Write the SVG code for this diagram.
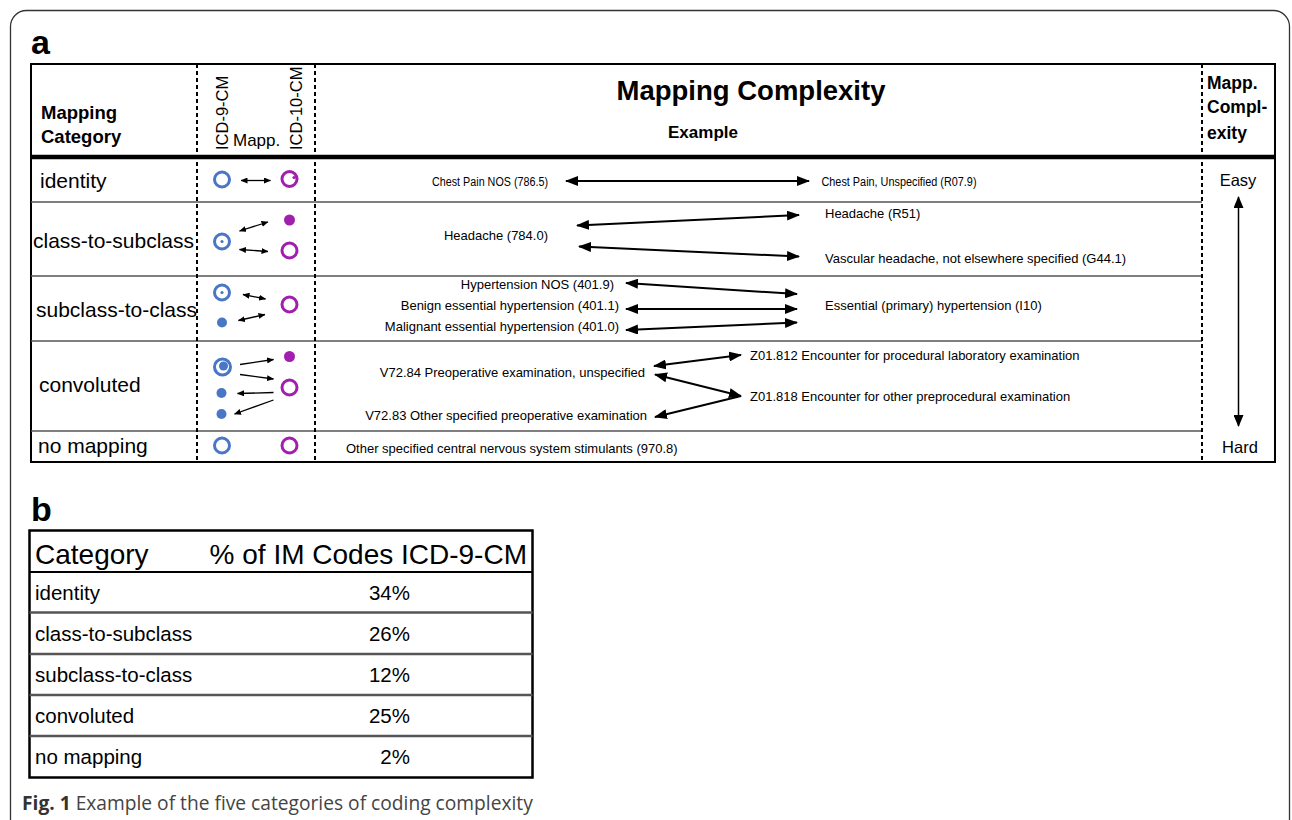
<svg xmlns="http://www.w3.org/2000/svg" width="1292" height="820" viewBox="0 0 1292 820">
<style>
.sans{font-family:"Liberation Sans",Arial,sans-serif;fill:#000}
.cat{font-size:21px}
.ex{font-size:13px}
.hdr{font-family:"Liberation Sans",Arial,sans-serif;font-weight:bold;fill:#000}
.sep{stroke:#555;stroke-width:1.5}
.dash{stroke:#000;stroke-width:2;stroke-dasharray:4 3}
.bring{fill:#fff;stroke:#4a76c6;stroke-width:3}
.mring{fill:#fff;stroke:#a11fae;stroke-width:3}
.bdot{fill:#4a76c6}
.mdot{fill:#a11fae}
.sarr{stroke:#000;stroke-width:1.3;fill:none}
.barr{stroke:#000;stroke-width:2;fill:none}
.tb{font-family:"Liberation Sans",Arial,sans-serif;fill:#000;font-size:20.5px}
.th{font-family:"Liberation Sans",Arial,sans-serif;fill:#000;font-size:28px}
.tsep{stroke:#555;stroke-width:2.5}
</style>
<defs>
<marker id="sa" markerUnits="userSpaceOnUse" markerWidth="7" markerHeight="6" refX="6.5" refY="3" orient="auto-start-reverse"><path d="M0,0 L7,3 L0,6 z" fill="#000"/></marker>
<marker id="ba" markerUnits="userSpaceOnUse" markerWidth="13" markerHeight="10" refX="12" refY="5" orient="auto-start-reverse"><path d="M0,0 L13,5 L0,10 z" fill="#000"/></marker>
<marker id="va" markerUnits="userSpaceOnUse" markerWidth="12" markerHeight="10" refX="11" refY="5" orient="auto-start-reverse"><path d="M0,0 L12,5 L0,10 z" fill="#000"/></marker>
</defs>
<rect width="1292" height="820" fill="#fff"/>
<rect x="10.5" y="10.5" width="1279" height="840" rx="16" fill="none" stroke="#333" stroke-width="1.3"/>

<g id="panel-a">
<text x="31" y="54" class="hdr" font-size="34">a</text>
<rect x="31" y="64" width="1244" height="398" fill="none" stroke="#000" stroke-width="2"/>
<line x1="31" y1="157" x2="1275" y2="157" stroke="#000" stroke-width="4.5"/>
<g id="row-lines">
<line x1="31" y1="202" x2="1202" y2="202" class="sep"/>
<line x1="31" y1="276" x2="1202" y2="276" class="sep"/>
<line x1="31" y1="341" x2="1202" y2="341" class="sep"/>
<line x1="31" y1="431" x2="1202" y2="431" class="sep"/>
</g>
<line x1="197" y1="64" x2="197" y2="462" class="dash"/>
<line x1="315" y1="64" x2="315" y2="462" class="dash"/>
<line x1="1202" y1="64" x2="1202" y2="462" class="dash"/>
</g>

<g id="header">
<text x="41" y="119" class="hdr" font-size="18.5">Mapping</text>
<text x="41" y="143" class="hdr" font-size="18.5">Category</text>
<text transform="translate(228,150) rotate(-90)" class="sans" font-size="16.5">ICD-9-CM</text>
<text transform="translate(302,150) rotate(-90)" class="sans" font-size="16.5">ICD-10-CM</text>
<text x="233" y="146" class="sans" font-size="17">Mapp.</text>
<text x="751" y="100" class="hdr" font-size="27.5" text-anchor="middle">Mapping Complexity</text>
<text x="703" y="138" class="hdr" font-size="17" text-anchor="middle">Example</text>
<text x="1207" y="89" class="hdr" font-size="17.5">Mapp.</text>
<text x="1207" y="113" class="hdr" font-size="17.5">Compl-</text>
<text x="1207" y="139" class="hdr" font-size="17.5">exity</text>
</g>

<g id="row-identity">
<text x="40" y="188" class="sans cat">identity</text>
<circle cx="222" cy="179.5" r="7.5" class="bring"/>
<circle cx="289.5" cy="179" r="7.5" class="mring"/>
<circle cx="294" cy="177.5" r="1.6" class="mdot"/>
<text x="548" y="185.5" class="sans" font-size="12.5" text-anchor="end" textLength="116" lengthAdjust="spacingAndGlyphs">Chest Pain NOS (786.5)</text>
<text x="821.5" y="185.5" class="sans" font-size="12.5" textLength="155" lengthAdjust="spacingAndGlyphs">Chest Pain, Unspecified (R07.9)</text>
</g>

<g id="row-class-to-subclass">
<text x="33" y="248" class="sans cat">class-to-subclass</text>
<circle cx="222" cy="241.5" r="7.5" class="bring"/>
<circle cx="222" cy="241.5" r="1.6" class="bdot"/>
<circle cx="289.5" cy="220" r="5.5" class="mdot"/>
<circle cx="289.5" cy="250.5" r="7.5" class="mring"/>
<text x="548" y="240" class="sans ex" text-anchor="end">Headache (784.0)</text>
<text x="825" y="218" class="sans ex">Headache (R51)</text>
<text x="825" y="263" class="sans ex">Vascular headache, not elsewhere specified (G44.1)</text>
</g>

<g id="row-subclass-to-class">
<text x="36" y="317" class="sans cat">subclass-to-class</text>
<circle cx="222" cy="292.5" r="7.5" class="bring"/>
<circle cx="222" cy="292.5" r="1.6" class="bdot"/>
<circle cx="222" cy="322.5" r="5" class="bdot"/>
<circle cx="289.5" cy="304.5" r="7.5" class="mring"/>
<text x="614" y="289" class="sans ex" text-anchor="end">Hypertension NOS (401.9)</text>
<text x="619" y="309.5" class="sans ex" text-anchor="end">Benign essential hypertension (401.1)</text>
<text x="619" y="331" class="sans ex" text-anchor="end">Malignant essential hypertension (401.0)</text>
<text x="825" y="310" class="sans ex">Essential (primary) hypertension (I10)</text>
</g>

<g id="row-convoluted">
<text x="39" y="392" class="sans cat">convoluted</text>
<circle cx="222.5" cy="367" r="8" class="bring"/>
<circle cx="223.5" cy="366" r="4.5" class="bdot"/>
<circle cx="221.5" cy="393" r="5" class="bdot"/>
<circle cx="221.5" cy="414" r="5" class="bdot"/>
<circle cx="289.5" cy="356.5" r="5.5" class="mdot"/>
<circle cx="289.5" cy="387.5" r="7.5" class="mring"/>
<text x="645" y="376.5" class="sans ex" text-anchor="end">V72.84 Preoperative examination, unspecified</text>
<text x="647" y="419.5" class="sans ex" text-anchor="end">V72.83 Other specified preoperative examination</text>
<text x="750" y="360" class="sans ex">Z01.812 Encounter for procedural laboratory examination</text>
<text x="750" y="401" class="sans ex">Z01.818 Encounter for other preprocedural examination</text>
</g>

<g id="row-no-mapping">
<text x="38" y="453" class="sans cat">no mapping</text>
<circle cx="222" cy="445.5" r="7.5" class="bring"/>
<circle cx="289.5" cy="445.5" r="7.5" class="mring"/>
<text x="346" y="452.5" class="sans ex">Other specified central nervous system stimulants (970.8)</text>
</g>

<g id="complexity-scale">
<text x="1238" y="186" class="sans" font-size="16.5" text-anchor="middle">Easy</text>
<text x="1240" y="453" class="sans" font-size="16.5" text-anchor="middle">Hard</text>
</g>

<g id="connectors">
<line x1="241" y1="180.5" x2="270.5" y2="180.5" class="sarr" marker-start="url(#sa)" marker-end="url(#sa)"/>
<line x1="239.5" y1="231" x2="268" y2="222" class="sarr" marker-start="url(#sa)" marker-end="url(#sa)"/>
<line x1="239.5" y1="249.5" x2="268" y2="251.5" class="sarr" marker-start="url(#sa)" marker-end="url(#sa)"/>
<line x1="243" y1="294.5" x2="265.5" y2="299" class="sarr" marker-start="url(#sa)" marker-end="url(#sa)"/>
<line x1="238.5" y1="320.5" x2="265" y2="314.5" class="sarr" marker-start="url(#sa)" marker-end="url(#sa)"/>
<line x1="240" y1="364.5" x2="273.5" y2="359.5" class="sarr" marker-end="url(#sa)"/>
<line x1="240" y1="374.5" x2="273.5" y2="379" class="sarr" marker-end="url(#sa)"/>
<line x1="273.5" y1="392.5" x2="237.5" y2="393.5" class="sarr" marker-end="url(#sa)"/>
<line x1="273.5" y1="400" x2="234.5" y2="414" class="sarr" marker-end="url(#sa)"/>

<line x1="566" y1="181" x2="809" y2="181" class="barr" marker-start="url(#ba)" marker-end="url(#ba)"/>
<line x1="577" y1="225.5" x2="799" y2="215" class="barr" marker-start="url(#ba)" marker-end="url(#ba)"/>
<line x1="579" y1="246.5" x2="799" y2="256.5" class="barr" marker-start="url(#ba)" marker-end="url(#ba)"/>
<line x1="626" y1="283" x2="797" y2="294" class="barr" marker-start="url(#ba)" marker-end="url(#ba)"/>
<line x1="626" y1="309" x2="797" y2="309" class="barr" marker-start="url(#ba)" marker-end="url(#ba)"/>
<line x1="626" y1="330" x2="797" y2="322.5" class="barr" marker-start="url(#ba)" marker-end="url(#ba)"/>
<line x1="654" y1="366" x2="741" y2="355" class="barr" marker-start="url(#ba)" marker-end="url(#ba)"/>
<line x1="655" y1="374.5" x2="741" y2="396" class="barr" marker-start="url(#ba)" marker-end="url(#ba)"/>
<line x1="655" y1="417" x2="741" y2="396" class="barr" marker-start="url(#ba)"/>
<line x1="1238.5" y1="197" x2="1238.5" y2="426" stroke="#000" stroke-width="1.5" marker-start="url(#va)" marker-end="url(#va)"/>
</g>

<g id="panel-b">
<text x="31" y="521" class="hdr" font-size="34">b</text>
<rect x="29.5" y="530.5" width="503" height="247" fill="none" stroke="#000" stroke-width="2.5"/>
<line x1="29.5" y1="572" x2="532.5" y2="572" stroke="#000" stroke-width="2"/>
<line x1="29.5" y1="612.5" x2="532.5" y2="612.5" class="tsep"/>
<line x1="29.5" y1="654" x2="532.5" y2="654" class="tsep"/>
<line x1="29.5" y1="695" x2="532.5" y2="695" class="tsep"/>
<line x1="29.5" y1="736" x2="532.5" y2="736" class="tsep"/>
<text x="35" y="564" class="th">Category</text>
<text x="527" y="564" class="th" text-anchor="end">% of IM Codes ICD-9-CM</text>
<text x="35" y="600" class="tb">identity</text>
<text x="410" y="600" class="tb" text-anchor="end">34%</text>
<text x="35" y="641" class="tb">class-to-subclass</text>
<text x="410" y="641" class="tb" text-anchor="end">26%</text>
<text x="35" y="682" class="tb">subclass-to-class</text>
<text x="410" y="682" class="tb" text-anchor="end">12%</text>
<text x="35" y="723" class="tb">convoluted</text>
<text x="410" y="723" class="tb" text-anchor="end">25%</text>
<text x="35" y="764" class="tb">no mapping</text>
<text x="410" y="764" class="tb" text-anchor="end">2%</text>
</g>

<g id="caption">
<text x="22" y="810" font-family="'Open Sans','Liberation Sans',sans-serif" font-size="19.2" fill="#444"><tspan font-weight="bold" fill="#333">Fig. 1</tspan> Example of the five categories of coding complexity</text>
</g>
</svg>
